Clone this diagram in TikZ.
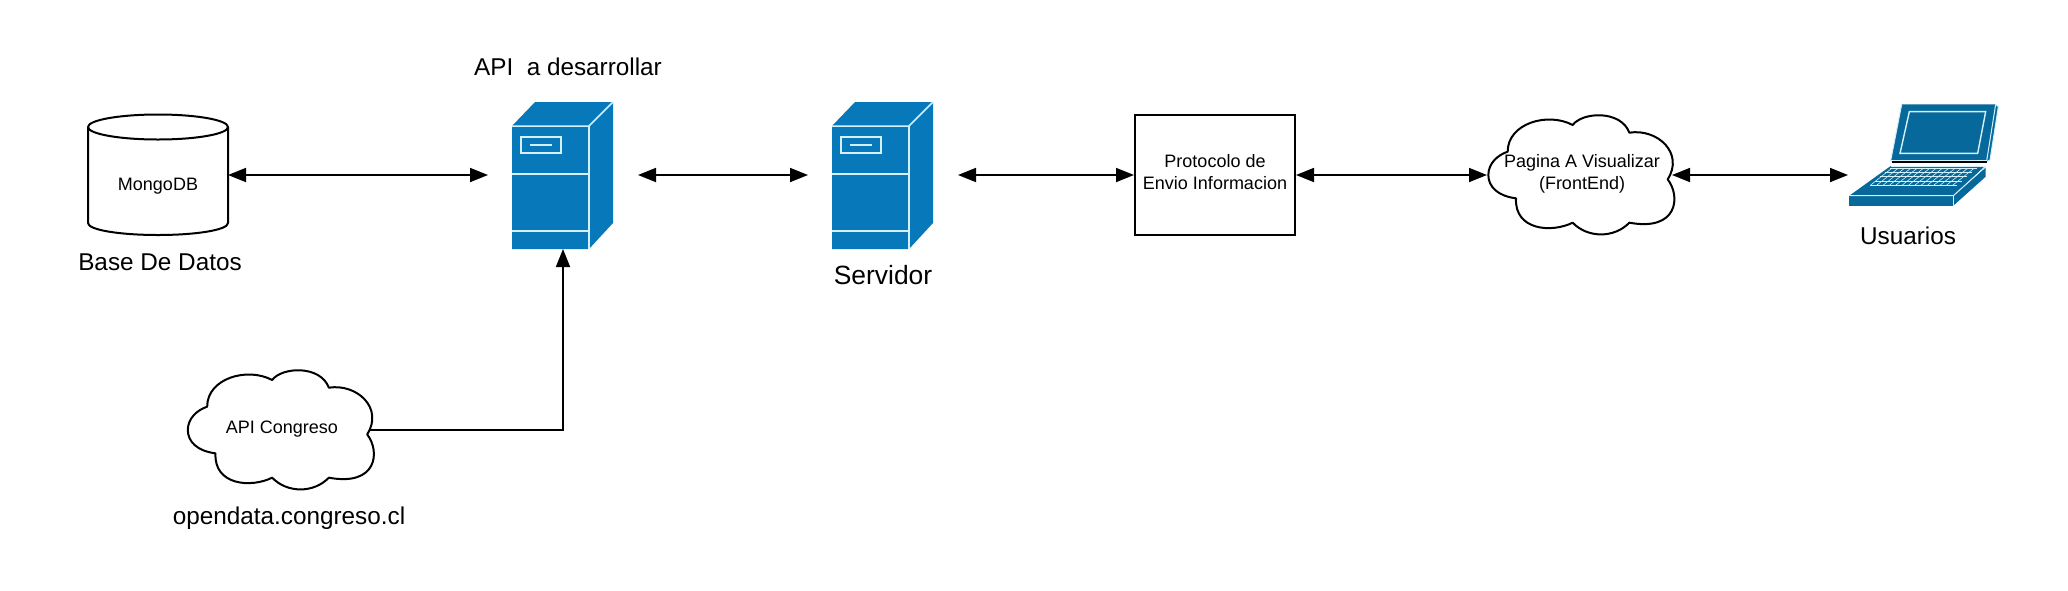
\documentclass[tikz,border=0pt]{standalone}
\usepackage{fontspec}
\setmainfont{Liberation Sans}
\usetikzlibrary{arrows.meta}
\definecolor{srvblue}{HTML}{0779BA}
\definecolor{lapblue}{HTML}{06689B}
\definecolor{edge}{HTML}{D4F1FA}
\tikzset{
  port/.style={draw=none,inner sep=0pt,outer sep=0pt,minimum width=#1,minimum height=148pt},
  link/.style={line width=1.8pt,black,{Triangle[length=18pt,width=14pt]}-{Triangle[length=18pt,width=14pt]}},
  feed/.style={line width=1.8pt,black,-{Triangle[length=18pt,width=14pt]}},
  shapeline/.style={line width=2pt,black,fill=white,line join=round},
  lbig/.style={anchor=base,inner sep=0pt,font=\fontsize{24.3}{28}\selectfont},
  lsmall/.style={inner sep=0pt,align=center,font=\fontsize{18}{22}\selectfont},
  lsmallb/.style={anchor=base,inner sep=0pt,font=\fontsize{18}{22}\selectfont},
  srvline/.style={draw=edge,line width=1.5pt,line join=miter},
  srvfill/.style={fill=srvblue,draw=none},
}
\newcommand{\servershape}[1]{%
  \begin{scope}[shift={(#1,0)}]
    \fill[srvfill] (512,126) -- (535,102) -- (613,102) -- (613,223) -- (589,249) -- (512,249) -- cycle;
    \draw[srvline] (512,126) -- (589,126) -- (613,102);
    \draw[srvline] (589,126) -- (589,249);
    \draw[srvline] (512,174) -- (589,174);
    \draw[srvline] (512,231) -- (589,231);
    \draw[srvline] (521,137) rectangle (561,153);
    \draw[srvline] (530,145) -- (552,145);
  \end{scope}}
\newcommand{\cloudshape}[2]{%
  \begin{scope}[shift={(#1,#2)},scale=1/3]
    \draw[shapeline] (165,325) .. controls (110,318) and (82,290) .. (82,255)
      .. controls (82,220) and (110,195) .. (140,185)
      .. controls (140,100) and (260,65) .. (335,105)
      .. controls (365,65) and (480,60) .. (505,128)
      .. controls (590,115) and (670,190) .. (620,268)
      .. controls (660,320) and (650,425) .. (505,398)
      .. controls (460,445) and (380,445) .. (335,398)
      .. controls (270,430) and (160,420) .. (165,325) -- cycle;
  \end{scope}}
\begin{document}
\begin{tikzpicture}[x=1pt,y=-1pt]
\useasboundingbox[fill=white] (0,0) rectangle (2068,590);

% database
\draw[shapeline] (88,127) -- (88,223) .. controls (88,230) and (120,235) .. (158,235)
  .. controls (196,235) and (228,230) .. (228,223) -- (228,127);
\draw[shapeline] (158,127) ellipse [x radius=70,y radius=12.5];
\node[port=140pt] (db) at (158,175) {};
\node[lsmallb] (dbtext) at (158,190.5) {MongoDB};
\node[lbig] (dblabel) at (160,270) {Base De Datos};

% servers
\servershape{0}
\servershape{320}
\node[port=150pt] (api) at (563,175) {};
\node[port=150pt] (srv) at (883,175) {};
\node[lbig] (apilabel) at (568,75) {API\ \ a desarrollar};
\node[lbig,font=\fontsize{26.4}{30}\selectfont] (srvlabel) at (883,284.5) {Servidor};

% protocol box
\node[draw=black,line width=2pt,fill=white,minimum width=160pt,minimum height=120pt,inner sep=0pt] (proto) at (1215,175) {};
\node[lsmall] (prototext) at (1215,172.5) {Protocolo de\\Envio Informacion};

% clouds
\cloudshape{1461}{90}
\node[port=185pt] (front) at (1579.5,175) {};
\node[lsmall] (fronttext) at (1582,174) {Pagina A Visualizar\\(FrontEnd)};
\cloudshape{160.5}{345}
\node[port=185pt,minimum height=110pt] (cong) at (277,430) {};
\node[lsmallb] (congtext) at (282,433) {API Congreso};
\node[lbig] (conglabel) at (289,524) {opendata.congreso.cl};

% laptop
\begin{scope}[shift={(1820,80)},scale=1/3]
  \fill[lapblue] (527,73) -- (535,80) -- (510,240) -- (500,245) -- cycle;
  \fill[lapblue] (245,73) -- (527,73) -- (500,242) -- (212,242) -- cycle;
  \draw[draw=edge,line width=1pt] (245,73) -- (212,242);
  \draw[draw=edge,line width=1pt] (527,73) -- (500,242) -- (212,242);
  \draw[draw=edge,line width=1pt] (527,73) -- (535,80) -- (510,240) -- (500,245);
  \draw[draw=edge,line width=1.4pt] (268,95) -- (497,95) -- (473,220) -- (240,220) -- cycle;
  \draw[black,line width=1.2pt] (215,246) -- (500,246);
  \fill[lapblue] (212,258) -- (495,258) -- (400,347) -- (88,347) -- cycle;
  \fill[lapblue] (88,347) -- (400,347) -- (400,377) -- (88,377) -- cycle;
  \fill[lapblue] (400,347) -- (497,262) -- (497,290) -- (400,377) -- cycle;
  \draw[draw=edge,line width=1pt] (88,347) -- (400,347) -- (497,260);
  \draw[draw=edge,line width=1pt] (400,347) -- (400,377);
  \draw[draw=edge,line width=1pt] (212,258) -- (495,258);
  \foreach \k in {0,...,4}{
    \draw[draw=edge,line width=.6pt] ({210-\k*15},{265+\k*12.5}) -- ({470-\k*15},{265+\k*12.5});
  }
  \foreach \k in {0,...,13}{
    \draw[draw=edge,line width=.6pt] ({215+\k*19},265) -- ({152+\k*19},315);
  }
\end{scope}
\node[port=100pt,minimum height=100pt] (lap) at (1898,175) {};
\node[lbig] (laplabel) at (1908,244) {Usuarios};

% connectors
\draw[link] (db.east) -- (api.west);
\draw[link] (api.east) -- (srv.west);
\draw[link] (srv.east) -- (proto.west);
\draw[link] (proto.east) -- (front.west);
\draw[link] (front.east) -- (lap.west);
\draw[feed] (cong.east) -| (api.south);
\end{tikzpicture}
\end{document}
